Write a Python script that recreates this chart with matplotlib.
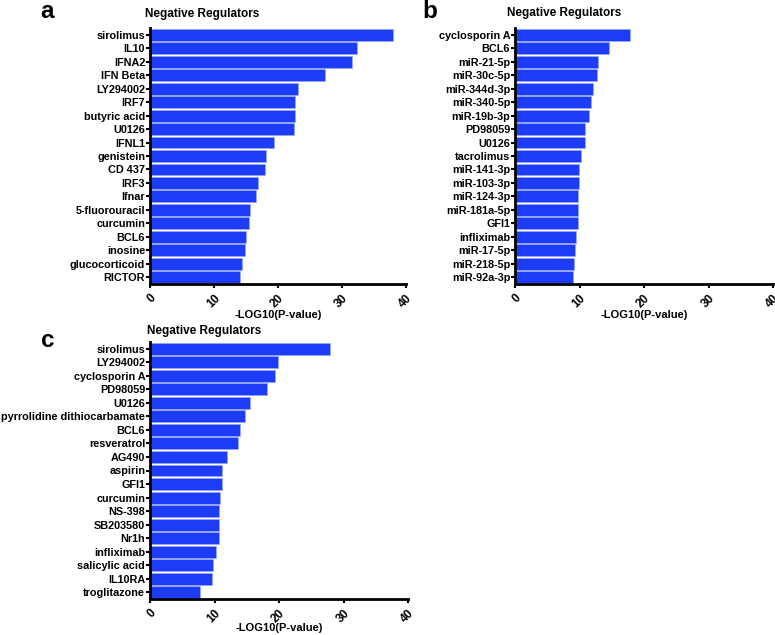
import matplotlib
matplotlib.use("Agg")
import matplotlib.pyplot as plt

plt.rcParams['font.family'] = ['Liberation Sans', 'DejaVu Sans']
plt.rcParams['font.weight'] = 'bold'

labels_a = ["sirolimus", "IL10", "IFNA2", "IFN Beta", "LY294002", "IRF7", "butyric acid",
            "U0126", "IFNL1", "genistein", "CD 437", "IRF3", "Ifnar", "5-fluorouracil",
            "curcumin", "BCL6", "inosine", "glucocorticoid", "RICTOR"]
values_a = [38.0, 32.3, 31.5, 27.3, 23.1, 22.6, 22.6, 22.5, 19.3, 18.2, 17.9, 16.8, 16.5,
            15.6, 15.4, 15.0, 14.8, 14.3, 14.1]

labels_b = ["cyclosporin A", "BCL6", "miR-21-5p", "miR-30c-5p", "miR-344d-3p", "miR-340-5p",
            "miR-19b-3p", "PD98059", "U0126", "tacrolimus", "miR-141-3p", "miR-103-3p",
            "miR-124-3p", "miR-181a-5p", "GFI1", "infliximab", "miR-17-5p", "miR-218-5p",
            "miR-92a-3p"]
values_b = [17.8, 14.6, 12.9, 12.7, 12.1, 11.8, 11.5, 10.9, 10.9, 10.2, 9.9, 9.9, 9.8, 9.8,
            9.8, 9.5, 9.3, 9.2, 9.0]

labels_c = ["sirolimus", "LY294002", "cyclosporin A", "PD98059", "U0126",
            "pyrrolidine dithiocarbamate", "BCL6", "resveratrol", "AG490", "aspirin", "GFI1",
            "curcumin", "NS-398", "SB203580", "Nr1h", "infliximab", "salicylic acid",
            "IL10RA", "troglitazone"]
values_c = [27.9, 19.9, 19.4, 18.2, 15.5, 14.8, 13.9, 13.6, 12.0, 11.2, 11.1, 10.8, 10.7,
            10.7, 10.7, 10.3, 9.8, 9.6, 7.8]

xticks = [0, 10, 20, 30, 40]
title = "Negative Regulators"
xlabel = "-LOG10(P-value)"

W, H = 775, 635
fig = plt.figure(figsize=(W / 100, H / 100), dpi=100)


def px_axes(left, top, right, bottom):
    return fig.add_axes([left / W, 1 - bottom / H, (right - left) / W, (bottom - top) / H])


def draw(ax, labels, values, letter, letter_xy, title_xy, label_y):
    n = len(labels)
    ypos = list(range(n))[::-1]
    ax.barh(ypos, values, height=0.88, color='#1c3cf8', edgecolor='#9aaaff', linewidth=0.4)
    ax.set_ylim(-0.5, n - 0.5)
    ax.set_xlim(0, 40)
    ax.set_yticks(ypos)
    ax.set_yticklabels(labels, fontsize=7.8, fontweight='bold')
    ax.set_xticks(xticks)
    ax.set_xticklabels([str(t) for t in xticks], fontsize=8.5, fontweight='bold',
                       rotation=45, ha='right', va='top', rotation_mode='anchor')
    for s in ['top', 'right']:
        ax.spines[s].set_visible(False)
    for s in ['left', 'bottom']:
        ax.spines[s].set_linewidth(2.0)
        ax.spines[s].set_color('black')
    ax.tick_params(axis='y', length=3, width=1.5, pad=0.5)
    ax.tick_params(axis='x', length=3, width=1.5, pad=3)
    fig.text(title_xy[0] / W, 1 - title_xy[1] / H, title, fontsize=8.5, fontweight='bold',
             ha='left', va='baseline')
    ax.set_xlabel(xlabel, fontsize=8, fontweight='bold')
    ax.xaxis.set_label_coords(0.5, label_y)
    fig.text(letter_xy[0] / W, 1 - letter_xy[1] / H, letter, fontsize=17.5, fontweight='bold',
             ha='left', va='baseline')


ax_a = px_axes(150, 28, 406, 284)
draw(ax_a, labels_a, values_a, "a", (40, 18), (145, 17), -0.10)
ax_b = px_axes(515, 28, 773, 284)
draw(ax_b, labels_b, values_b, "b", (422, 18), (507, 16), -0.10)
ax_c = px_axes(150, 342, 408, 599)
draw(ax_c, labels_c, values_c, "c", (41, 347), (147, 334), -0.095)

fig.savefig("out.png", dpi=100)
